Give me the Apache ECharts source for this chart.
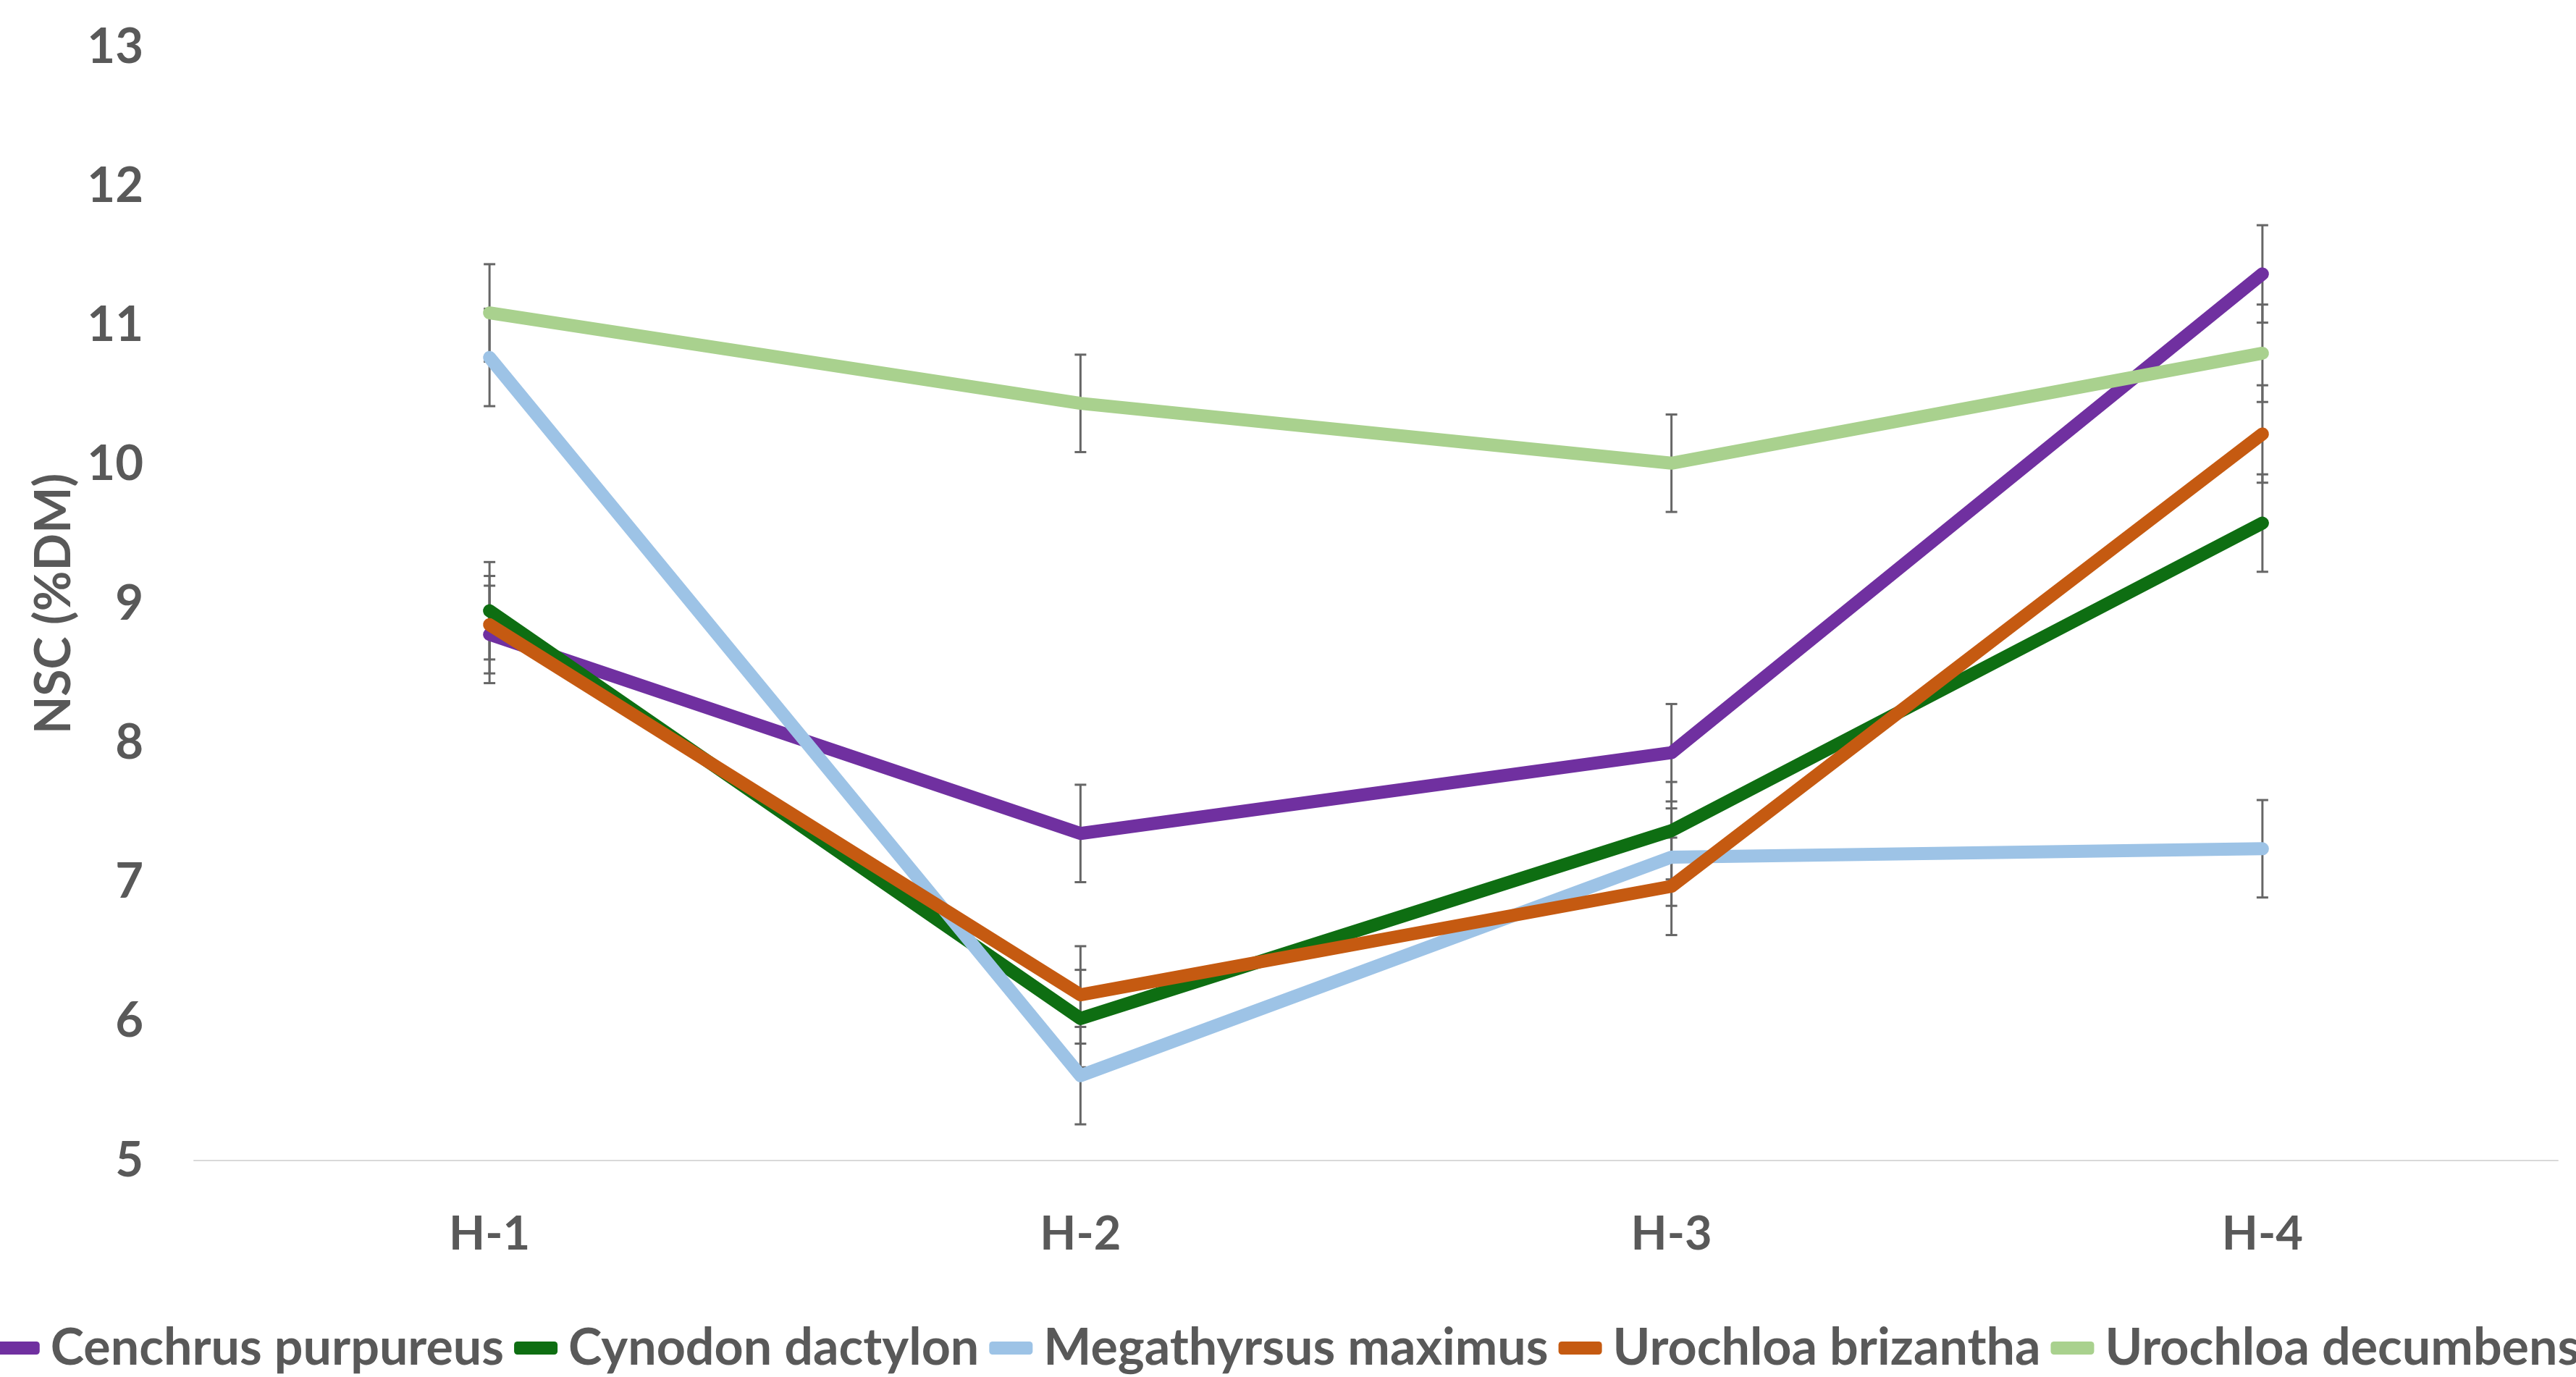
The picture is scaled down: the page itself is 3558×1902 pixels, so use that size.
<!DOCTYPE html>
<html>
<head>
<meta charset="utf-8">
<script src="https://cdn.jsdelivr.net/npm/echarts@6/dist/echarts.min.js"></script>
<style>
html,body{margin:0;padding:0;background:#fff;}
#c{width:3558px;height:1902px;}
</style>
</head>
<body>
<div id="c"></div>
<script>
const categories = ['H-1', 'H-2', 'H-3', 'H-4'];
const yTicks = [5, 6, 7, 8, 9, 10, 11, 12, 13];
const seriesNames = ['Cenchrus purpureus', 'Cynodon dactylon', 'Megathyrsus maximus', 'Urochloa brizantha', 'Urochloa decumbens'];
const cenchrus = [8.78, 7.35, 7.93, 11.37];
const cynodon = [8.95, 6.02, 7.37, 9.58];
const megathyrsus = [10.77, 5.61, 7.18, 7.24];
const brizantha = [8.85, 6.19, 6.97, 10.22];
const decumbens = [11.09, 10.44, 10.01, 10.80];
const errCenchrus = [0.35, 0.35, 0.35, 0.35];
const errCynodon = [0.35, 0.35, 0.35, 0.35];
const errMegathyrsus = [0.35, 0.35, 0.35, 0.35];
const errBrizantha = [0.35, 0.35, 0.35, 0.35];
const errDecumbens = [0.35, 0.35, 0.35, 0.35];
const colors = ['#7030A0', '#0E6E12', '#9DC3E6', '#C55A11', '#A9D18E'];

const values = [cenchrus, cynodon, megathyrsus, brizantha, decumbens];
const errors = [errCenchrus, errCynodon, errMegathyrsus, errBrizantha, errDecumbens];

const FONT = 'Lato';
const TXT = '#595959';

const chart = echarts.init(document.getElementById('c'));

const series = [];
values.forEach((vals, si) => {
  series.push({
    type: 'custom',
    name: seriesNames[si] + ' err',
    z: 1,
    silent: true,
    renderItem: function (params, api) {
      const x = api.value(0), y = api.value(1), e = api.value(2);
      const top = api.coord([x, y + e]);
      const bot = api.coord([x, y - e]);
      const hw = 8;
      const st = {stroke: '#666666', lineWidth: 3};
      return {
        type: 'group',
        children: [
          {type: 'line', shape: {x1: top[0], y1: top[1], x2: bot[0], y2: bot[1]}, style: st},
          {type: 'line', shape: {x1: top[0] - hw, y1: top[1], x2: top[0] + hw, y2: top[1]}, style: st},
          {type: 'line', shape: {x1: bot[0] - hw, y1: bot[1], x2: bot[0] + hw, y2: bot[1]}, style: st}
        ]
      };
    },
    data: vals.map((v, i) => [i, v, errors[si][i]])
  });
});
values.forEach((vals, si) => {
  series.push({
    type: 'line',
    name: seriesNames[si],
    z: 2 + si,
    data: vals,
    showSymbol: false,
    symbol: 'none',
    color: colors[si],
    lineStyle: {width: 18, color: colors[si], cap: 'round', join: 'round'},
    emphasis: {disabled: true}
  });
});

chart.setOption({
  animation: false,
  backgroundColor: '#ffffff',
  grid: {left: 268, right: 25, top: 65, bottom: 299, containLabel: false},
  legend: {
    data: seriesNames,
    left: 'center',
    top: 1822,
    width: 5000,
    icon: 'roundRect',
    itemWidth: 60,
    itemHeight: 18,
    itemGap: 14,
    textStyle: {fontFamily: FONT, fontWeight: 'bold', fontSize: 70, color: TXT, padding: [0, 0, 0, 10]}
  },
  xAxis: {
    type: 'category',
    data: categories,
    boundaryGap: true,
    axisLine: {show: true, lineStyle: {color: '#D9D9D9', width: 2}},
    axisTick: {show: false},
    axisLabel: {margin: 70, fontFamily: FONT, fontWeight: 'bold', fontSize: 65, color: TXT}
  },
  yAxis: {
    type: 'value',
    min: yTicks[0],
    max: yTicks[yTicks.length - 1],
    interval: 1,
    name: 'NSC (%DM)',
    nameLocation: 'middle',
    nameRotate: 90,
    nameGap: 150,
    nameTextStyle: {fontFamily: FONT, fontWeight: 'bold', fontSize: 68, color: TXT},
    axisLine: {show: false},
    axisTick: {show: false},
    splitLine: {show: false},
    axisLabel: {margin: 70, fontFamily: FONT, fontWeight: 'bold', fontSize: 67, color: TXT}
  },
  series: series
});
</script>
</body>
</html>
